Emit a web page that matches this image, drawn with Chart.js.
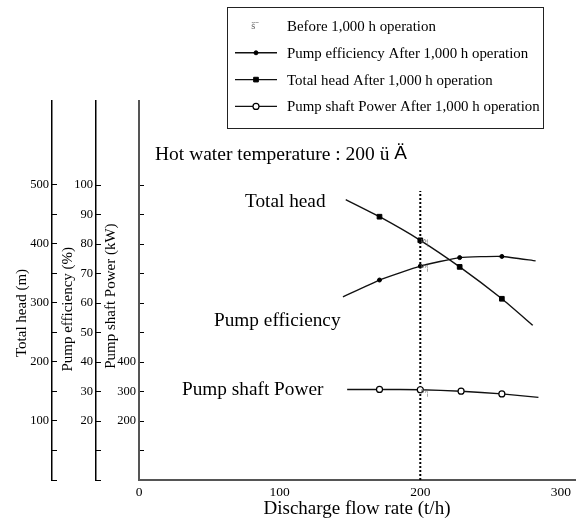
<!DOCTYPE html>
<html>
<head>
<meta charset="utf-8">
<script src="https://cdn.jsdelivr.net/npm/chart.js@4.4.1/dist/chart.umd.min.js"></script>
<style>
	html, body { margin:0; padding:0; background:#fff; }
	canvas { display:block; }
</style>
</head>
<body>
<canvas id="chart" width="582" height="520"></canvas>
<script>
// After 1,000 h operation
const headFlow = [147, 171, 200, 228, 258, 280];
const headValues = [475, 446, 406, 361, 307, 262];
const effFlow = [145, 171, 200, 228, 258, 282];
const effValues = [62.1, 67.8, 72.5, 75.4, 75.8, 74.3];
const powerFlow = [148, 171, 200, 229, 258, 284];
const powerValues = [307, 307, 306, 301, 292, 280];

// Before 1,000 h operation (only the rated point)
const beforeFlow = [200];
const beforeHead = [402];
const beforeEff = [71.9];
const beforePower = [295];

// rated flow marker (dotted line), in % of the efficiency axis
const ratedFlow = [200, 200];
const ratedEff = [0, 98];

// ticks
const xTicks = [0, 100, 200, 300];
const headTicks = [0, 50, 100, 150, 200, 250, 300, 350, 400, 450, 500];
const headLabels = [100, 200, 300, 400, 500];
const effTicks = [0, 10, 20, 30, 40, 50, 60, 70, 80, 90, 100];
const effLabels = [20, 30, 40, 50, 60, 70, 80, 90, 100];
const powerTicks = [0, 100, 200, 300, 400, 500, 600, 700, 800, 900, 1000];
const powerLabels = [200, 300, 400];

const SERIF = "'Liberation Serif', 'Times New Roman', serif";
const BEFORE_GLYPH = 'š\u02c9';

Chart.defaults.font.family = SERIF;
Chart.defaults.color = '#000';

const pts = (xs, ys) => xs.map((x, i) => ({ x, y:ys[i] }));
// no marker on the two ends of a curve
const inner = (n, r) => Array.from({ length:n }, (_, i) => (i === 0 || i === n - 1) ? 0 : r);

function leftAxis(ticks, labels, width, title, titlePad, max, border){
	return {
		type:'linear', position:'left',
		min:0, max,
		afterBuildTicks: s => { s.ticks = ticks.map(v => ({ value:v })); },
		afterFit: s => { s.width = width; },
		ticks:{
			padding:8,
			font:{ size:12.5 },
			callback: v => labels.includes(v) ? String(v) : ''
		},
		grid:{ drawOnChartArea:false, drawTicks:true, tickLength:-5, color:'#000', lineWidth:1 },
		border:border,
		title:{ display:true, text:title, font:{ size:15 }, padding:{ top:titlePad, bottom:0 } }
	};
}

// text written on the plot
const notesPlugin = {
	id:'notes',
	afterDraw(chart){
		const ctx = chart.ctx;
		ctx.save();
		ctx.fillStyle = '#000';
		ctx.textBaseline = 'alphabetic';
		ctx.textAlign = 'left';
		ctx.font = '19.5px ' + SERIF;
		const hot = 'Hot water temperature : 200 ü ';
		ctx.fillText(hot, 155, 160);
		const w = ctx.measureText(hot).width;
		ctx.font = "19px 'Liberation Sans', Arial, sans-serif";
		ctx.fillText('Ä', 155 + w, 159);
		ctx.font = '19.3px ' + SERIF;
		ctx.fillText('Total head', 245, 207);
		ctx.fillText('Pump efficiency', 214, 326);
		ctx.fillText('Pump shaft Power', 182, 395);
		ctx.restore();
	}
};

// the odd glyph used for the "before" readings
const beforePlugin = {
	id:'beforeGlyph',
	afterDatasetsDraw(chart){
		const ctx = chart.ctx;
		ctx.save();
		ctx.fillStyle = '#666';
		ctx.font = '11px ' + SERIF;
		ctx.textAlign = 'center';
		ctx.textBaseline = 'middle';
		chart.data.datasets.forEach((ds, i) => {
			if(!ds.before) return;
			chart.getDatasetMeta(i).data.forEach(el => {
				ctx.save();
				ctx.translate(el.x + 4, el.y);
				ctx.rotate(Math.PI / 2);
				ctx.fillText(BEFORE_GLYPH, 0, 0);
				ctx.restore();
			});
		});
		ctx.restore();
	}
};

// boxed legend, one row per item
const legendPlugin = {
	id:'boxLegend',
	afterDraw(chart){
		const ctx = chart.ctx;
		const rows = [3, 1, 0, 2];
		const y0 = 26, step = 26.8;
		ctx.save();
		ctx.strokeStyle = '#222';
		ctx.lineWidth = 1;
		ctx.strokeRect(227.5, 7.5, 316, 121);
		rows.forEach((di, r) => {
			const ds = chart.data.datasets[di];
			const y = y0 + r * step;
			if(ds.before){
				ctx.fillStyle = '#666';
				ctx.font = '10.5px ' + SERIF;
				ctx.textAlign = 'center';
				ctx.textBaseline = 'middle';
				ctx.fillText(BEFORE_GLYPH, 255, y);
			}else{
				ctx.strokeStyle = ds.borderColor;
				ctx.lineWidth = ds.borderWidth;
				ctx.beginPath();
				ctx.moveTo(235, y);
				ctx.lineTo(277, y);
				ctx.stroke();
				ctx.fillStyle = ds.pointBackgroundColor;
				ctx.strokeStyle = ds.pointBorderColor;
				ctx.lineWidth = ds.pointBorderWidth;
				Chart.helpers.drawPoint(ctx, {
					pointStyle:ds.pointStyle, radius:Math.max(...ds.pointRadius), rotation:0, borderWidth:ds.pointBorderWidth
				}, 256, y);
			}
			ctx.fillStyle = '#000';
			ctx.font = '14.9px ' + SERIF;
			ctx.textAlign = 'left';
			ctx.textBaseline = 'middle';
			ctx.fillText(ds.label, 287, y + 1);
		});
		ctx.restore();
	}
};

new Chart(document.getElementById('chart'), {
	type:'line',
	data:{
		datasets:[
			{
				label:'Total head After 1,000 h operation',
				data:pts(headFlow, headValues),
				yAxisID:'yHead',
				borderColor:'#111', borderWidth:1.4, tension:0.15,
				pointStyle:'rect', pointRadius:inner(headFlow.length, 3.3),
				pointBackgroundColor:'#000', pointBorderColor:'#000', pointBorderWidth:1
			},
			{
				label:'Pump efficiency After 1,000 h operation',
				data:pts(effFlow, effValues),
				yAxisID:'yEff',
				borderColor:'#111', borderWidth:1.4, tension:0.15,
				pointStyle:'circle', pointRadius:inner(effFlow.length, 2),
				pointBackgroundColor:'#000', pointBorderColor:'#000', pointBorderWidth:1
			},
			{
				label:'Pump shaft Power After 1,000 h operation',
				data:pts(powerFlow, powerValues),
				yAxisID:'yPow',
				borderColor:'#111', borderWidth:1.4, tension:0.15,
				pointStyle:'circle', pointRadius:inner(powerFlow.length, 3),
				pointBackgroundColor:'#fff', pointBorderColor:'#000', pointBorderWidth:1.2
			},
			{
				label:'Before 1,000 h operation', before:true,
				data:pts(beforeFlow, beforeHead), yAxisID:'yHead',
				showLine:false, pointRadius:0
			},
			{
				label:'Before 1,000 h operation', before:true,
				data:pts(beforeFlow, beforeEff), yAxisID:'yEff',
				showLine:false, pointRadius:0
			},
			{
				label:'Before 1,000 h operation', before:true,
				data:pts(beforeFlow, beforePower), yAxisID:'yPow',
				showLine:false, pointRadius:0
			},
			{
				label:'rated flow',
				data:pts(ratedFlow, ratedEff), yAxisID:'yEff',
				borderColor:'#000', borderWidth:2, borderDash:[2, 2], pointRadius:0
			}
		]
	},
	options:{
		responsive:false,
		animation:false,
		layout:{ padding:{ top:101, right:7, bottom:0, left:0 } },
		plugins:{ legend:{ display:false }, tooltip:{ enabled:false } },
		scales:{
			x:{
				type:'linear', position:'bottom',
				min:0, max:310,
				afterBuildTicks: s => { s.ticks = xTicks.map(v => ({ value:v })); },
				afterFit: s => { s.height = 40; },
				ticks:{ padding:4, font:{ size:13.5 } },
				grid:{ display:false, drawTicks:false },
				border:{ display:true, color:'#555', width:2 },
				title:{ display:true, text:'Discharge flow rate (t/h)', font:{ size:19 }, padding:{ top:0, bottom:0 } }
			},
			yHead:Object.assign(leftAxis(headTicks, headLabels, 52, 'Total head (m)            ', 13, 642,
				{ display:true, color:'#000', width:1.5 }), { weight:3 }),
			yEff:Object.assign(leftAxis(effTicks, effLabels, 44, 'Pump efficiency (%)          ', 7, 128.5,
				{ display:true, color:'#000', width:1.5 }), { weight:2 }),
			yPow:Object.assign(leftAxis(powerTicks, powerLabels, 43, 'Pump shaft Power (kW)   ', 6, 1285,
				{ display:true, color:'#555', width:2 }), { weight:1 })
		}
	},
	plugins:[notesPlugin, beforePlugin, legendPlugin]
});
</script>
</body>
</html>
